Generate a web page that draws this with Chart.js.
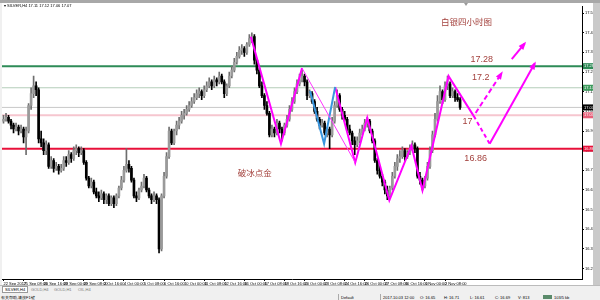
<!DOCTYPE html>
<html>
<head>
<meta charset="utf-8">
<script src="https://cdn.jsdelivr.net/npm/chart.js@4.4.0/dist/chart.umd.min.js"></script>
<style>
body{margin:0;width:600px;height:300px;overflow:hidden;background:#f0f0f0;position:relative;font-family:"Liberation Sans",sans-serif}
#topbar{position:absolute;left:0;top:0;width:600px;height:3px;background:#a8a8a8}
#wrap{position:absolute;left:2px;top:3px;width:591px;height:282px;background:#fff}
#side{position:absolute;left:593px;top:3px;width:7px;height:282px;background:#c9c9c9}
#hdr{position:absolute;left:4px;top:3px;font-size:4px;color:#000;white-space:nowrap}
#tabs{position:absolute;left:0;top:285px;width:600px;height:8px;background:#f0f0f0;border-top:1px solid #bbb}
.tab{position:absolute;top:1px;font-size:4px;color:#777;white-space:nowrap}
.tab.on{color:#000;background:#fff;border:1px solid #999;padding:0 2px;top:0}
#status{position:absolute;left:0;top:294px;width:600px;height:6px;background:#f0f0f0}
.st{position:absolute;top:1px;font-size:4px;color:#000;white-space:nowrap}
.sep{position:absolute;top:0;width:1px;height:6px;background:#aaa}
</style>
</head>
<body>
<div id="topbar"></div>
<div id="wrap"><canvas id="myChart" width="591" height="282"></canvas></div>
<div id="side"></div>
<div id="hdr">▾ SILVER,H4  17.11 17.12 17.06 17.07</div>
<div id="tabs">
  <span class="tab on" style="left:2px">SILVER,H4</span>
  <span class="tab" style="left:31px">GOLD,H4</span>
  <span class="tab" style="left:54px">GOLD,H1</span>
  <span class="tab" style="left:78px">OIL,H4</span>
</div>
<div id="status">
  <span class="st" style="left:1px">有关帮助,请按F1键</span>
  <span class="sep" style="left:338px"></span>
  <span class="st" style="left:341px">Default</span>
  <span class="sep" style="left:380px"></span>
  <span class="st" style="left:383px">2017.10.03 12:00</span>
  <span class="st" style="left:420px">O: 16.65</span>
  <span class="st" style="left:444px">H: 16.71</span>
  <span class="st" style="left:470px">L: 16.61</span>
  <span class="st" style="left:495px">C: 16.69</span>
  <span class="st" style="left:518px">V: 813</span>
  <span class="st" style="left:543px;width:9px;height:4px;background:#5a8a6a"></span>
  <span class="st" style="left:554px">103/5 kb</span>
</div>
<script>
const dateLabels = ["22 Sep 2017","25 Sep 08:00","26 Sep 16:00","28 Sep 00:00","29 Sep 08:00","2 Oct 16:00","4 Oct 00:00","5 Oct 08:00","6 Oct 16:00","10 Oct 00:00","11 Oct 08:00","12 Oct 16:00","16 Oct 00:00","17 Oct 08:00","18 Oct 16:00","20 Oct 00:00","23 Oct 08:00","24 Oct 16:00","26 Oct 00:00","27 Oct 08:00","30 Oct 16:00","1 Nov 00:00","2 Nov 08:00"];
const tickSlots = [0,8,16,24,32,40,48,56,64,72,80,88,96,104,112,120,128,136,144,152,160,168,176];
const yTicks = [16.25,16.35,16.45,16.55,16.65,16.75,16.85,16.95,17.05,17.15,17.25,17.35,17.45,17.55];

const opens = [
17.00,17.01,17.02,17.00,16.98,16.96,16.97,16.95,16.96,16.92,
16.95,17.08,17.14,17.18,17.16,16.91,16.89,16.85,16.88,16.77,
16.80,16.76,16.77,16.75,16.76,16.80,16.79,16.83,16.81,16.85,
16.86,16.84,16.85,16.79,16.71,16.67,16.69,16.64,16.62,16.61,
16.63,16.60,16.62,16.58,16.61,16.58,16.62,16.66,16.70,16.75,
16.78,16.76,16.70,16.62,16.61,16.65,16.67,16.71,16.65,16.62,
16.60,16.62,16.60,16.35,16.62,16.72,16.82,16.95,16.89,16.95,
16.98,17.00,17.03,17.04,17.06,17.08,17.10,17.12,17.14,17.15,
17.13,17.16,17.18,17.20,17.18,17.21,17.20,17.23,17.20,17.14,
17.18,17.23,17.26,17.30,17.33,17.36,17.37,17.35,17.39,17.42,
17.43,17.31,17.26,17.18,17.13,17.08,17.04,16.93,16.96,16.94,
16.99,16.96,16.94,16.98,17.01,17.06,17.10,17.15,17.19,17.21,
17.23,17.20,17.13,17.14,17.10,17.05,17.01,16.98,16.99,16.94,
16.96,16.93,17.00,17.08,17.13,17.06,17.03,17.01,16.96,16.94,
16.90,16.88,16.90,16.94,16.96,16.99,17.00,16.95,16.90,16.80,
16.75,16.72,16.69,16.65,16.62,16.66,16.72,16.77,16.81,16.82,
16.85,16.82,16.84,16.86,16.88,16.86,16.72,16.70,16.67,16.71,
16.77,16.85,16.93,17.01,17.10,17.15,17.11,17.18,17.19,17.13,
17.15,17.12,17.11];
const highs = [
17.03,17.04,17.03,17.01,16.99,16.99,16.98,16.98,16.97,16.97,
17.09,17.17,17.23,17.20,17.17,16.95,16.91,16.90,16.89,16.82,
16.81,16.79,16.78,16.78,16.82,16.82,16.85,16.84,16.87,16.88,
16.87,16.87,16.86,16.80,16.72,16.71,16.70,16.66,16.64,16.65,
16.64,16.63,16.63,16.62,16.62,16.63,16.67,16.72,16.77,16.86,
16.80,16.77,16.71,16.64,16.66,16.69,16.73,16.72,16.66,16.63,
16.64,16.63,16.61,16.63,16.74,16.84,16.97,16.96,16.96,17.00,
17.02,17.05,17.06,17.08,17.10,17.12,17.14,17.16,17.17,17.16,
17.18,17.20,17.22,17.21,17.23,17.22,17.25,17.24,17.21,17.19,
17.25,17.28,17.32,17.35,17.38,17.39,17.38,17.40,17.44,17.45,
17.44,17.32,17.27,17.20,17.14,17.10,17.05,16.98,16.97,17.01,
17.00,16.97,16.99,17.03,17.08,17.12,17.17,17.21,17.24,17.26,
17.24,17.21,17.16,17.15,17.11,17.07,17.02,17.01,17.00,16.97,
16.97,17.02,17.10,17.16,17.14,17.07,17.05,17.02,16.98,16.95,
16.92,16.92,16.96,16.98,17.01,17.02,17.01,16.96,16.91,16.81,
16.77,16.73,16.70,16.67,16.67,16.74,16.79,16.83,16.85,16.87,
16.86,16.85,16.88,16.90,16.89,16.87,16.74,16.71,16.72,16.79,
16.87,16.95,17.04,17.13,17.18,17.16,17.20,17.23,17.20,17.17,
17.16,17.14,17.12];
const lows = [
16.99,17.00,16.99,16.96,16.94,16.95,16.93,16.94,16.89,16.83,
16.94,17.06,17.12,17.13,16.89,16.87,16.83,16.83,16.76,16.76,
16.74,16.75,16.73,16.74,16.75,16.77,16.78,16.79,16.80,16.83,
16.82,16.83,16.78,16.70,16.66,16.66,16.63,16.61,16.59,16.60,
16.58,16.58,16.57,16.57,16.56,16.57,16.61,16.65,16.69,16.74,
16.74,16.69,16.61,16.59,16.60,16.64,16.66,16.64,16.61,16.58,
16.59,16.58,16.33,16.34,16.61,16.71,16.81,16.88,16.88,16.93,
16.96,16.99,17.01,17.03,17.05,17.07,17.09,17.11,17.12,17.11,
17.12,17.15,17.17,17.16,17.17,17.18,17.19,17.19,17.12,17.13,
17.17,17.22,17.25,17.29,17.32,17.34,17.33,17.34,17.38,17.40,
17.29,17.24,17.17,17.12,17.06,17.03,16.92,16.92,16.92,16.93,
16.94,16.90,16.93,16.97,17.00,17.05,17.09,17.14,17.18,17.20,
17.18,17.11,17.12,17.09,17.04,17.00,16.96,16.97,16.93,16.92,
16.86,16.92,16.99,17.07,17.05,17.01,17.00,16.95,16.93,16.88,
16.83,16.87,16.89,16.93,16.95,16.97,16.94,16.89,16.79,16.73,
16.71,16.67,16.63,16.60,16.61,16.65,16.71,16.75,16.79,16.81,
16.80,16.81,16.83,16.85,16.84,16.71,16.68,16.65,16.66,16.70,
16.76,16.84,16.92,17.00,17.09,17.09,17.10,17.16,17.12,17.12,
17.10,17.10,17.06];
const closes = [
17.01,17.02,17.00,16.98,16.96,16.97,16.95,16.96,16.92,16.95,
17.08,17.14,17.18,17.16,16.91,16.89,16.85,16.88,16.77,16.80,
16.76,16.77,16.75,16.76,16.80,16.79,16.83,16.81,16.85,16.86,
16.84,16.85,16.79,16.71,16.67,16.69,16.64,16.62,16.61,16.63,
16.60,16.62,16.58,16.61,16.58,16.62,16.66,16.70,16.75,16.78,
16.76,16.70,16.62,16.61,16.65,16.67,16.71,16.65,16.62,16.60,
16.62,16.60,16.35,16.62,16.72,16.82,16.95,16.89,16.95,16.98,
17.00,17.03,17.04,17.06,17.08,17.10,17.12,17.14,17.15,17.13,
17.16,17.18,17.20,17.18,17.21,17.20,17.23,17.20,17.14,17.18,
17.23,17.26,17.30,17.33,17.36,17.37,17.35,17.39,17.42,17.43,
17.31,17.26,17.18,17.13,17.08,17.04,16.93,16.96,16.94,16.99,
16.96,16.94,16.98,17.01,17.06,17.10,17.15,17.19,17.21,17.23,
17.20,17.13,17.14,17.10,17.05,17.01,16.98,16.99,16.94,16.96,
16.93,17.00,17.08,17.13,17.06,17.03,17.01,16.96,16.94,16.90,
16.88,16.90,16.94,16.96,16.99,17.00,16.95,16.90,16.80,16.75,
16.72,16.69,16.65,16.62,16.66,16.72,16.77,16.81,16.82,16.85,
16.82,16.84,16.86,16.88,16.86,16.72,16.70,16.67,16.71,16.77,
16.85,16.93,17.01,17.10,17.15,17.11,17.18,17.19,17.13,17.15,
17.12,17.11,17.07];

// horizontal levels
const levelPrices = [17.28, 17.17, 17.07, 17.03, 16.86];
const levelTags = ["17.280", "17.170", "17.070", "17.030", "16.860"];
const levelColors = ["#2e8b57", "#b4cdb9", "#c8c8c8", "#f6c6cf", "#e8103a"];
const levelWidths = [2, 1, 1, 2, 2];
const tagColors = ["#2e8b57", "#3c9a5c", "#000000", "#e8607a", "#e8103a"];

// drawn lines, [slot, price]
const zigMain = [[98.6,17.43],[110.6,16.885],[119,17.27]];
const zigThin = [[119,17.27],[140.2,16.79]];
const zigBlue = [[122.2,17.154],[127.8,16.885],[132.2,17.174]];
const zigRun = [[132.2,17.174],[140.2,16.789],[145,17.017],[153.8,16.597],[162.6,16.875],[167,16.648],[177.4,17.229],[187.4,17.027]];
const zigDash = [[187.4,17.027],[193.8,16.885]];
const arrowLong = [[193.8,16.885],[211.8,17.295]];
const arrowShort = [[188.2,17.042],[198.6,17.245]];
const arrowTop = [[202.6,17.316],[207.8,17.396]];

const noteTexts = ["白银四小时图", "17.28", "17.2", "17", "16.86", "破冰点金"];
const noteX = [184.6, 190.6, 190.2, 185.0, 188.2, 100.2];
const noteY = [17.508, 17.316, 17.224, 17.0, 16.81, 16.739];

const pts = a => a.map(p => ({x: p[0], y: p[1]}));

const ctx = document.getElementById('myChart');

const wicks = closes.map((c, i) => ({x: i, y: [lows[i], highs[i]]}));
const bodies = closes.map((c, i) => ({x: i, y: [opens[i], c]}));
const up = closes.map((c, i) => c >= opens[i]);

const datasets = [];
levelPrices.forEach((p, k) => {
  datasets.push({type: 'line', data: [{x: -0.6, y: p}, {x: 230.6, y: p}],
    borderColor: levelColors[k], borderWidth: levelWidths[k], pointRadius: 0, order: 10});
});
datasets.push({type: 'bar', data: wicks, barThickness: 1, grouped: false,
  backgroundColor: up.map(u => u ? '#6e6e6e' : '#000'), order: 6});
datasets.push({type: 'bar', data: bodies, barThickness: 2, grouped: false, minBarLength: 1,
  backgroundColor: up.map(u => u ? '#9a9a9a' : '#000'), order: 5});

function seg(a, color, width, dash) {
  datasets.push({type: 'line', data: pts(a), borderColor: color, borderWidth: width,
    borderDash: dash || [], pointRadius: 0, tension: 0, order: 1});
}
seg(zigMain, '#ff00ff', 2);
seg(zigThin, '#ff33ff', 1);
seg(zigBlue, '#3a96de', 2);
seg(zigRun, '#ff00ff', 2);
seg(zigDash, '#ff00ff', 2, [4, 3]);
seg(arrowLong, '#ff00ff', 2);
seg(arrowShort, '#ff00ff', 2, [5, 3]);
seg(arrowTop, '#ff00ff', 2);

const overlay = {
  id: 'overlay',
  afterDatasetsDraw(chart) {
    const c = chart.ctx, xs = chart.scales.x, ys = chart.scales.y;
    c.save();
    // arrow heads
    [arrowLong, arrowShort, arrowTop].forEach(a => {
      const x1 = xs.getPixelForValue(a[0][0]), y1 = ys.getPixelForValue(a[0][1]);
      const x2 = xs.getPixelForValue(a[1][0]), y2 = ys.getPixelForValue(a[1][1]);
      const ang = Math.atan2(y2 - y1, x2 - x1);
      c.fillStyle = '#ff00ff';
      c.beginPath();
      c.moveTo(x2 + Math.cos(ang) * 2, y2 + Math.sin(ang) * 2);
      c.lineTo(x2 - Math.cos(ang) * 6 + Math.sin(ang) * 3, y2 - Math.sin(ang) * 6 - Math.cos(ang) * 3);
      c.lineTo(x2 - Math.cos(ang) * 6 - Math.sin(ang) * 3, y2 - Math.sin(ang) * 6 + Math.cos(ang) * 3);
      c.closePath();
      c.fill();
    });
    // notes
    c.fillStyle = '#a3403c';
    c.textAlign = 'center';
    c.textBaseline = 'middle';
    noteTexts.forEach((t, k) => {
      c.font = /[0-9]/.test(t) ? '9px "Liberation Sans"' : '8.5px "Noto Sans CJK SC"';
      c.fillText(t, xs.getPixelForValue(noteX[k]), ys.getPixelForValue(noteY[k]));
    });
    c.restore();
  },
  afterDraw(chart) {
    const c = chart.ctx, ys = chart.scales.y, area = chart.chartArea;
    c.save();
    c.font = '4px "Liberation Sans"';
    c.textBaseline = 'middle';
    c.textAlign = 'left';
    levelPrices.forEach((p, k) => {
      const y = ys.getPixelForValue(p);
      c.fillStyle = tagColors[k];
      c.fillRect(area.right + 1, y - 3, 11, 6);
      c.fillStyle = '#fff';
      c.fillText(levelTags[k], area.right + 2, y);
    });
    // chart shift marker
    c.fillStyle = '#9a9a9a';
    c.beginPath();
    c.moveTo(area.right - 118, 0);
    c.lineTo(area.right - 114, 0);
    c.lineTo(area.right - 116, 3);
    c.fill();
    c.restore();
  }
};

const chart = new Chart(ctx, {
  type: 'bar',
  data: {datasets: datasets},
  options: {
    responsive: false,
    animation: false,
    devicePixelRatio: 1,
    layout: {padding: {top: 2, left: 0, right: 0, bottom: 0}},
    plugins: {legend: {display: false}, tooltip: {enabled: false}},
    scales: {
      x: {
        type: 'linear', min: -0.6, max: 230.6, offset: false,
        grid: {display: true, drawOnChartArea: false, drawTicks: true, tickLength: 2, color: '#000', offset: false},
        border: {display: true, color: '#000', width: 1},
        afterBuildTicks: s => { s.ticks = tickSlots.map(v => ({value: v})); },
        afterFit: s => { s.height = 6; },
        ticks: {
          autoSkip: false, maxRotation: 0, minRotation: 0, align: 'start', padding: 0,
          color: '#000', font: {size: 4, family: 'Liberation Sans'},
          callback: v => dateLabels[tickSlots.indexOf(v)]
        }
      },
      y: {
        type: 'linear', position: 'right', min: 16.197, max: 17.584,
        grid: {display: true, drawOnChartArea: false, drawTicks: true, tickLength: 2, color: '#000'},
        border: {display: true, color: '#000', width: 1},
        afterBuildTicks: s => { s.ticks = yTicks.map(v => ({value: v})); },
        afterFit: s => { s.width = 11; },
        ticks: {
          padding: 1, color: '#000', font: {size: 4, family: 'Liberation Sans'},
          callback: v => v.toFixed(2)
        }
      }
    }
  },
  plugins: [overlay]
});
</script>
</body>
</html>
